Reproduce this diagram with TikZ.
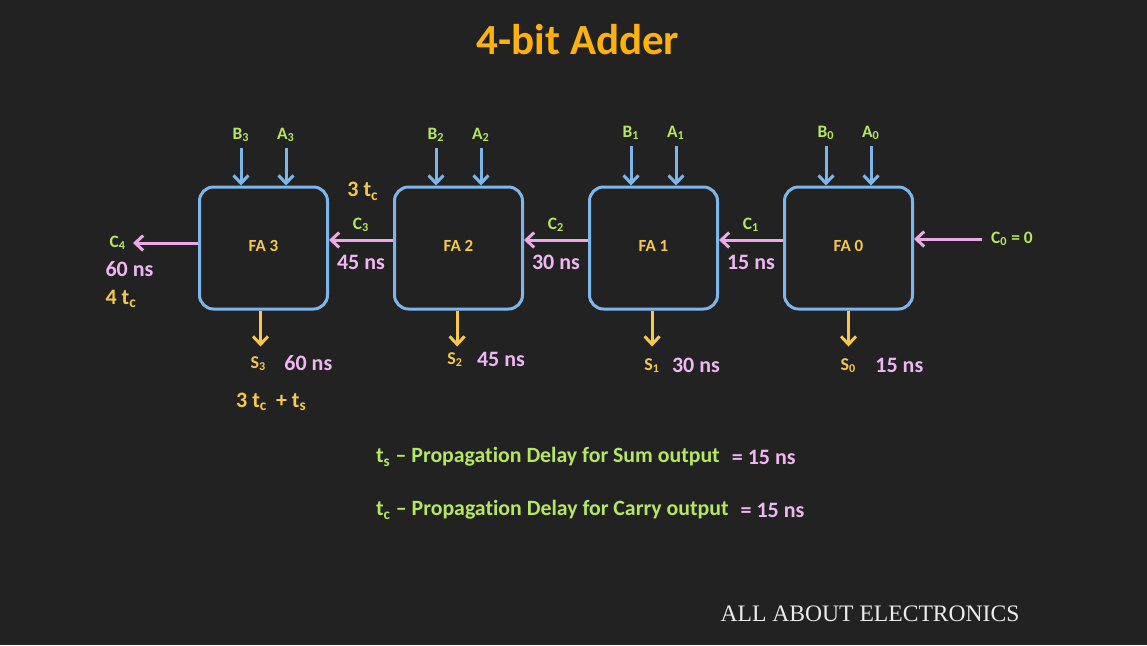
\documentclass[tikz,border=0pt]{standalone}
\usepackage{fontspec}
\setmainfont{Carlito}[Ligatures={TeX,NoCommon}]
\newfontfamily\brandfont{Liberation Serif}
\usetikzlibrary{arrows.meta,positioning,calc}
\definecolor{bgdark}{RGB}{34,34,34}
\definecolor{boxblue}{RGB}{125,182,235}
\definecolor{wirepink}{RGB}{238,168,232}
\definecolor{sumyellow}{RGB}{248,200,75}
\definecolor{labgreen}{RGB}{180,232,95}
\definecolor{titleorange}{RGB}{255,178,10}
\definecolor{nspink}{RGB}{238,182,242}
\definecolor{brandgray}{RGB}{235,235,235}

\begin{document}
\begin{tikzpicture}[x=0.5pt, y=-0.5pt, node distance=32pt,
  every node/.style={font=\bfseries\fontsize{8.5}{10}\selectfont},
  fabox/.style={draw=boxblue, line width=1.5pt, rounded corners=7pt, minimum width=64pt, minimum height=61pt, text=sumyellow},
  inarrow/.style={-{Straight Barb[length=4pt,width=7.5pt]}, boxblue, line width=1.5pt},
  carry/.style={-{Straight Barb[length=4pt,width=7.5pt]}, wirepink, line width=1.5pt},
  sumarrow/.style={-{Straight Barb[length=4pt,width=7.5pt]}, sumyellow, line width=1.5pt},
  lab/.style={text=labgreen, font=\bfseries\fontsize{8.7}{10}\selectfont},
  sumlab/.style={text=sumyellow, font=\bfseries\fontsize{9}{10}\selectfont},
  ns/.style={text=nspink, font=\bfseries\fontsize{11}{12}\selectfont},
  tc/.style={text=sumyellow, font=\bfseries\fontsize{11}{12}\selectfont},
  note/.style={text=labgreen, font=\bfseries\fontsize{10.9}{12}\selectfont}]
\fill[bgdark] (0,0) rectangle (1147,645);
\useasboundingbox (0,0) rectangle (1147,645);

\node[text=titleorange, font=\bfseries\fontsize{21.5}{24}\selectfont] (title) at (578,40) {4-bit Adder};

% full adder blocks
\node[fabox] (fa0) at (848.5,248) {\raisebox{2pt}{FA 0}};
\node[fabox, left=of fa0] (fa1) {\raisebox{2pt}{FA 1}};
\node[fabox, left=of fa1] (fa2) {\raisebox{2pt}{FA 2}};
\node[fabox, left=of fa2] (fa3) {\raisebox{2pt}{FA 3}};

% inputs
\node[lab] (b3) at ($(fa3.north)+(-22.5,-51)$) {B\textsubscript{3}};
\node[lab] (a3) at ($(fa3.north)+(22.5,-51)$) {A\textsubscript{3}};
\node[lab] (b2) at ($(fa2.north)+(-22.5,-51)$) {B\textsubscript{2}};
\node[lab] (a2) at ($(fa2.north)+(22.5,-51)$) {A\textsubscript{2}};
\node[lab] (b1) at ($(fa1.north)+(-22.5,-53)$) {B\textsubscript{1}};
\node[lab] (a1) at ($(fa1.north)+(22.5,-53)$) {A\textsubscript{1}};
\node[lab] (b0) at ($(fa0.north)+(-22.5,-53)$) {B\textsubscript{0}};
\node[lab] (a0) at ($(fa0.north)+(22.5,-53)$) {A\textsubscript{0}};
\draw[inarrow] (b3) -- (b3 |- fa3.north);
\draw[inarrow] (a3) -- (a3 |- fa3.north);
\draw[inarrow] (b2) -- (b2 |- fa2.north);
\draw[inarrow] (a2) -- (a2 |- fa2.north);
\draw[inarrow] (b1) -- (b1 |- fa1.north);
\draw[inarrow] (a1) -- (a1 |- fa1.north);
\draw[inarrow] (b0) -- (b0 |- fa0.north);
\draw[inarrow] (a0) -- (a0 |- fa0.north);

% carry chain
\coordinate (c0start) at ([xshift=34pt, yshift=4.5pt]fa0.east);
\draw[carry] (c0start) -- ([yshift=4.5pt]fa0.east);
\node[lab, right=1pt of c0start] (c0) {C\textsubscript{0} = 0};
\draw[carry] ([yshift=4pt]fa0.west) -- node[lab, above] (c1) {C\textsubscript{1}} node[ns, below=3.5pt] (d1) {15 ns} ([yshift=4pt]fa1.east);
\draw[carry] ([yshift=4pt]fa1.west) -- node[lab, above] (c2) {C\textsubscript{2}} node[ns, below=3.5pt] (d2) {30 ns} ([yshift=4pt]fa2.east);
\draw[carry] ([yshift=4pt]fa2.west) -- node[lab, above] (c3) {C\textsubscript{3}} node[ns, below=3.5pt] (d3) {45 ns} ([yshift=4pt]fa3.east);
\node[tc, above=1.5pt of c3, xshift=1pt] (d3c) {3 t\textsubscript{c}};
\coordinate (c4end) at ([xshift=-32.5pt, yshift=2.5pt]fa3.west);
\draw[carry] ([yshift=2.5pt]fa3.west) -- (c4end);
\node[lab, left=0pt of c4end] (c4) {C\textsubscript{4}};
\node[ns, anchor=west] (d4) at ($(c4.west)+(-4,26)$) {60 ns};
\node[tc, anchor=west] (d4c) at ($(d4.west)+(0,30)$) {4 t\textsubscript{c}};

% sum outputs
\coordinate (s3end) at ([xshift=-1.5pt, yshift=-18pt]fa3.south);
\coordinate (s2end) at ([xshift=-0.7pt, yshift=-18pt]fa2.south);
\coordinate (s1end) at ([xshift=-0.7pt, yshift=-18pt]fa1.south);
\coordinate (s0end) at ([yshift=-18pt]fa0.south);
\draw[sumarrow] (s3end |- fa3.south) -- (s3end);
\draw[sumarrow] (s2end |- fa2.south) -- (s2end);
\draw[sumarrow] (s1end |- fa1.south) -- (s1end);
\draw[sumarrow] (fa0.south) -- (s0end);
\node[sumlab, below=1.5pt of s3end, xshift=-1pt] (s3) {S\textsubscript{3}};
\node[sumlab, below=-0.5pt of s2end, xshift=-1pt] (s2) {S\textsubscript{2}};
\node[sumlab, below=2.5pt of s1end] (s1) {S\textsubscript{1}};
\node[sumlab, below=2.5pt of s0end] (s0) {S\textsubscript{0}};
\node[ns, right=2pt of s3] (t3) {60 ns};
\node[ns, right=0pt of s2] (t2) {45 ns};
\node[ns, right=-1pt of s1] (t1) {30 ns};
\node[ns, right=2.5pt of s0] (t0) {15 ns};
\node[tc] (s3f) at ($(s3)+(13,38)$) {3 t\textsubscript{c}\, + t\textsubscript{s}};

% delay definitions
\node[note, anchor=west] (defs) at (369,457) {t\textsubscript{s} -- Propagation Delay for Sum output};
\node[ns, right=-1pt of defs] (defsv) {= 15 ns};
\node[note, anchor=west] (defc) at (369,510) {t\textsubscript{c} -- Propagation Delay for Carry output};
\node[ns, right=-1pt of defc] (defcv) {= 15 ns};

\node[text=brandgray, font=\brandfont\fontsize{11.8}{13}\selectfont] (brand) at (870,614) {ALL ABOUT ELECTRONICS};
\end{tikzpicture}
\end{document}
